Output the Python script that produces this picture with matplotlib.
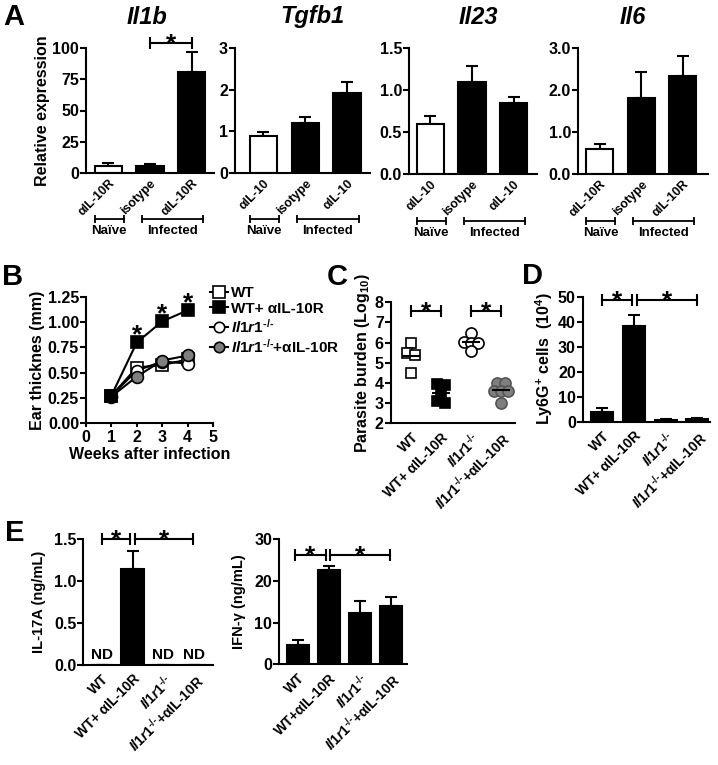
import numpy as np
import matplotlib
matplotlib.use('Agg')
import matplotlib.pyplot as plt
from matplotlib.lines import Line2D

plt.rcParams['font.family'] = ['Liberation Sans', 'DejaVu Sans']
plt.rcParams['font.weight'] = 'bold'
plt.rcParams['axes.labelweight'] = 'bold'
plt.rcParams['mathtext.fontset'] = 'custom'
plt.rcParams['mathtext.rm'] = 'Liberation Sans:bold'
plt.rcParams['mathtext.bf'] = 'Liberation Sans:bold'
plt.rcParams['mathtext.it'] = 'Liberation Sans:italic:bold'

# ---- data ----
# A: relative expression (naive aIL-10R, infected isotype, infected aIL-10R)
a_genes = ['Il1b', 'Tgfb1', 'Il23', 'Il6']
a_xlabels = [['αIL-10R', 'isotype', 'αIL-10R'],
             ['αIL-10', 'isotype', 'αIL-10'],
             ['αIL-10', 'isotype', 'αIL-10'],
             ['αIL-10R', 'isotype', 'αIL-10R']]
il1b_mean = [6.0, 5.5, 81.0]
il1b_err = [2.2, 1.5, 15.5]
tgfb1_mean = [0.90, 1.20, 1.92]
tgfb1_err = [0.08, 0.15, 0.26]
il23_mean = [0.60, 1.10, 0.84]
il23_err = [0.09, 0.18, 0.08]
il6_mean = [0.59, 1.81, 2.34]
il6_err = [0.13, 0.62, 0.47]
a_fill = ['white', 'black', 'black']

# B: ear thickness
weeks = [1, 2, 3, 4]
wt_ear = [0.27, 0.55, 0.575, 0.63]
wt_ear_err = [0.02, 0.03, 0.05, 0.03]
wt_ab_ear = [0.27, 0.80, 1.01, 1.12]
wt_ab_ear_err = [0.02, 0.03, 0.03, 0.03]
ko_ear = [0.27, 0.52, 0.61, 0.59]
ko_ear_err = [0.02, 0.03, 0.03, 0.03]
ko_ab_ear = [0.26, 0.46, 0.62, 0.67]
ko_ab_ear_err = [0.02, 0.03, 0.03, 0.03]
b_star_weeks = [2, 3, 4]

# C: parasite burden (log10), individual mice
par_wt = [6.0, 5.5, 5.4, 4.5]
par_wt_ab = [3.95, 3.9, 3.5, 3.1, 3.0]
par_ko = [6.5, 6.05, 6.0, 6.0, 5.6]
par_ko_ab = [3.98, 3.98, 3.6, 3.6, 3.6, 3.0]

# D: Ly6G+ cells (10^4)
ly6g_mean = [4.0, 38.3, 0.8, 1.2]
ly6g_err = [1.6, 4.5, 0.15, 0.2]

# E: cytokines (nan = not detected)
il17_mean = [np.nan, 1.15, np.nan, np.nan]
il17_err = [0, 0.21, 0, 0]
ifng_mean = [4.6, 22.6, 12.4, 14.1]
ifng_err = [1.3, 1.0, 2.8, 2.1]

ko = '$\\mathit{Il1r1}^{\u2010/\u2010}$'
groups = ['WT', 'WT+ αIL-10R', ko, ko + '+αIL-10R']
groups_ifn = ['WT', 'WT+αIL-10R', ko, ko + '+αIL-10R']
legend_labels = ['WT', 'WT+ αIL-10R', ko, ko + '+αIL-10R']

# ---- layout helpers (pixel coordinates) ----
W, H = 718, 765
fig = plt.figure(figsize=(W / 100, H / 100), dpi=100)


def add_axes(x0, y0, x1, y1):
    return fig.add_axes([x0 / W, 1 - y1 / H, (x1 - x0) / W, (y1 - y0) / H])


def ftext(x, y, s, **kw):
    fig.text(x / W, 1 - y / H, s, **kw)


def style(ax, ylim, yticks, ylabels, xlim):
    for s in ('top', 'right'):
        ax.spines[s].set_visible(False)
    for s in ('left', 'bottom'):
        ax.spines[s].set_linewidth(1.5)
    ax.set_ylim(ylim)
    ax.set_yticks(yticks)
    ax.set_yticklabels(ylabels)
    ax.set_xlim(xlim)
    ax.tick_params(axis='y', direction='out', length=4, width=1.5, labelsize=11.5, pad=1)
    ax.tick_params(axis='x', length=0)


def bars(ax, mean, err, width, fill='black'):
    x = np.arange(len(mean))
    ax.bar(x, mean, width, color=fill, edgecolor='black', linewidth=1.5, zorder=2)
    ax.errorbar(x, mean, yerr=[np.zeros(len(err)), err], fmt='none', ecolor='black',
                elinewidth=1.5, capsize=4.5, capthick=1.5, zorder=1)


def star(ax, x, y, dy_px, size=19):
    # asterisk glyph centre sits ~0.58 em above baseline
    off = (dy_px - 0.58 * size / 0.72) * 0.72
    ax.annotate('*', (x, y), xytext=(0, off), textcoords='offset points',
                ha='center', va='baseline', fontsize=size, fontweight='bold', annotation_clip=False)


def bracket(ax, x0, x1, y, with_star=True):
    ax.plot([x0, x1], [y, y], color='black', lw=1.5, marker='|', ms=8, mew=1.5, clip_on=False)
    if with_star:
        star(ax, (x0 + x1) / 2, y, 7)


def cat_labels(ax, labels, size=10):
    ax.set_xticks(range(len(labels)))
    ax.set_xticklabels(labels, rotation=45, ha='right', rotation_mode='anchor', fontsize=size)
    ax.tick_params(axis='x', pad=5)


# ---- panel A ----
a_boxes = [(86, 48, 214, 173), (235, 48, 370, 173), (409, 48, 537, 174), (578, 48, 708, 174)]
a_xlims = [(-0.54, 2.54), (-0.68, 2.55), (-0.51, 2.56), (-0.52, 2.61)]
a_means = [il1b_mean, tgfb1_mean, il23_mean, il6_mean]
a_errs = [il1b_err, tgfb1_err, il23_err, il6_err]
a_yticks = [[0, 25, 50, 75, 100], [0, 1, 2, 3], [0, 0.5, 1.0, 1.5], [0, 1, 2, 3]]
a_ylabels = [['0', '25', '50', '75', '100'], ['0', '1', '2', '3'],
             ['0.0', '0.5', '1.0', '1.5'], ['0.0', '1.0', '2.0', '3.0']]
a_title_x = [147, 312, 478, 633]

for i, gene in enumerate(a_genes):
    ax = add_axes(*a_boxes[i])
    style(ax, (0, a_yticks[i][-1]), a_yticks[i], a_ylabels[i], a_xlims[i])
    bars(ax, a_means[i], a_errs[i], 0.65, fill=a_fill)
    ax.set_xticks(range(3))
    ax.set_xticklabels(a_xlabels[i], rotation=45, ha='right', rotation_mode='anchor', fontsize=9)
    ax.tick_params(axis='x', pad=3)
    ftext(a_title_x[i], 17, gene, fontsize=17, fontweight='bold', fontstyle='italic',
          ha='center', va='center')
    tr = ax.get_xaxis_transform()
    ax.plot([-0.33, 0.38], [-0.37, -0.37], transform=tr, color='black', lw=1.3,
            marker='|', ms=6, mew=1.3, clip_on=False)
    ax.plot([0.8, 2.28], [-0.37, -0.37], transform=tr, color='black', lw=1.3,
            marker='|', ms=6, mew=1.3, clip_on=False)
    ax.text(0.02, -0.465, 'Naïve', transform=tr, ha='center', va='center', fontsize=9.5)
    ax.text(1.54, -0.465, 'Infected', transform=tr, ha='center', va='center', fontsize=9.5)
    if i == 0:
        ax.set_ylabel('Relative expression', fontsize=11.5, labelpad=2)
        bracket(ax, 1, 2, 104)

# ---- panel B ----
ax = add_axes(86, 297.3, 213, 422.7)
style(ax, (0, 1.25), [0, 0.25, 0.5, 0.75, 1.0, 1.25],
      ['0.00', '0.25', '0.50', '0.75', '1.00', '1.25'], (0, 5))
ax.set_xticks(range(6))
ax.tick_params(axis='x', length=3, width=1.5, labelsize=11.5, pad=2)
b_series = [(wt_ear, wt_ear_err, 's', 'white'), (ko_ear, ko_ear_err, 'o', 'white'),
            (ko_ab_ear, ko_ab_ear_err, 'o', '#7f7f7f'), (wt_ab_ear, wt_ab_ear_err, 's', 'black')]
handles = {}
for vals, err, mk, fc in b_series:
    ms = 9 if mk == 's' else 8.5
    ax.errorbar(weeks, vals, yerr=err, color='black', lw=1.5, marker=mk, ms=ms,
                mfc=fc, mec='black', mew=1.2, capsize=3, elinewidth=1.2, clip_on=False, zorder=3)
    handles[(mk, fc)] = Line2D([], [], color='black', lw=1.5, marker=mk, ms=ms - 1,
                               mfc=fc, mec='black', mew=1.2)
for w in b_star_weeks:
    star(ax, w, wt_ab_ear[weeks.index(w)], 15)
ax.set_ylabel('Ear thicknes (mm)', fontsize=11.5, labelpad=2)
ax.set_xlabel('Weeks after infection', fontsize=11.5, labelpad=2)
order = [('s', 'white'), ('s', 'black'), ('o', 'white'), ('o', '#7f7f7f')]
ax.legend([handles[k] for k in order], legend_labels, loc='upper left',
          bbox_to_anchor=(210 / W, 1 - 286 / H), bbox_transform=fig.transFigure,
          frameon=False, fontsize=11, handlelength=1.2, handletextpad=0.15,
          labelspacing=0.12, borderaxespad=0, borderpad=0)


# ---- panel C ----
def spread(vals, step=0.24, tol=0.15):
    vals = np.asarray(vals, float)
    offs = np.zeros(len(vals))
    used = np.zeros(len(vals), bool)
    for i in range(len(vals)):
        if used[i]:
            continue
        idx = np.where((np.abs(vals - vals[i]) < tol) & ~used)[0]
        used[idx] = True
        offs[idx] = (np.arange(len(idx)) - (len(idx) - 1) / 2) * step
    return offs


ax = add_axes(390.7, 302.3, 515, 423.3)
style(ax, (2, 8), range(2, 9), [str(v) for v in range(2, 9)], (-0.68, 3.47))
c_series = [(par_wt, 's', 'white'), (par_wt_ab, 's', 'black'),
            (par_ko, 'o', 'white'), (par_ko_ab, 'o', '#7f7f7f')]
for i, (vals, mk, fc) in enumerate(c_series):
    ax.plot(i + spread(vals), vals, ls='none', marker=mk, ms=7.5 if mk == 's' else 8, mfc=fc,
            mec='black' if fc != '#7f7f7f' else '#555555', mew=1.2, zorder=2, clip_on=False)
    ax.hlines(np.mean(vals), i - 0.3, i + 0.3, color='black', lw=1.5, zorder=3)
bracket(ax, 0, 1, 7.55)
bracket(ax, 2, 3, 7.55)
ax.set_ylabel('Parasite burden (Log$_{10}$)', fontsize=11.5, labelpad=2)
cat_labels(ax, groups)

# ---- panel D ----
ax = add_axes(582.7, 296.7, 710, 421.7)
style(ax, (0, 50), range(0, 51, 10), [str(v) for v in range(0, 51, 10)], (-0.62, 3.4))
bars(ax, ly6g_mean, ly6g_err, 0.7)
bracket(ax, 0, 0.93, 48.5)
bracket(ax, 1.1, 3, 48.5)
ax.set_ylabel('Ly6G$^{+}$ cells  (10$^{4}$)', fontsize=11.5, labelpad=2)
cat_labels(ax, groups)

# ---- panel E ----
ax = add_axes(83.3, 539.3, 213, 665)
style(ax, (0, 1.5), [0, 0.5, 1.0, 1.5], ['0.0', '0.5', '1.0', '1.5'], (-0.59, 3.6))
bars(ax, np.nan_to_num(il17_mean), il17_err, 0.72)
for i, v in enumerate(il17_mean):
    if np.isnan(v):
        ax.text(i, 0.03, 'ND', ha='center', va='bottom', fontsize=11)
bracket(ax, 0, 0.93, 1.5)
bracket(ax, 1.07, 2.95, 1.5)
ax.set_ylabel('IL-17A (ng/mL)', fontsize=10.5, labelpad=6)
cat_labels(ax, groups)

ax = add_axes(279.3, 539.3, 406.7, 664.3)
style(ax, (0, 30), [0, 10, 20, 30], ['0', '10', '20', '30'], (-0.6, 3.51))
bars(ax, ifng_mean, ifng_err, 0.72)
bracket(ax, -0.1, 0.9, 26.2)
bracket(ax, 1.04, 2.97, 26.2)
ax.set_ylabel('IFN-γ (ng/mL)', fontsize=10.5, labelpad=6)
cat_labels(ax, groups_ifn)

# ---- panel letters ----
for letter, x, y in [('A', 14, 17), ('B', 13, 277), ('C', 337, 277), ('D', 532, 276), ('E', 15, 533)]:
    ftext(x, y, letter, fontsize=21, fontweight='bold', ha='center', va='center')

fig.savefig('out.png', dpi=100)
